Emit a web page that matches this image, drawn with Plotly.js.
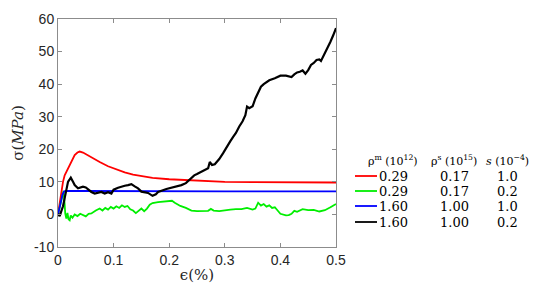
<!DOCTYPE html>
<html><head><meta charset="utf-8">
<script src="https://cdn.plot.ly/plotly-3.0.1.min.js"></script>
<style>html,body{margin:0;padding:0;background:#fff}</style>
</head><body><div id="chart" style="width:540px;height:291px"></div>
<script>
// strain (%) and stress (MPa)
const redX = [0, 0.003, 0.006, 0.009, 0.012, 0.016, 0.02, 0.025, 0.03, 0.035, 0.039, 0.045, 0.05, 0.06, 0.075, 0.09, 0.1, 0.12, 0.135, 0.15, 0.17, 0.2, 0.23, 0.26, 0.3, 0.35, 0.4, 0.45, 0.5];
const redY = [0, 3.5, 7, 10, 12, 13.5, 15, 16.8, 18.2, 19.0, 19.3, 19.0, 18.5, 17.4, 16.1, 14.8, 14.1, 12.9, 12.2, 11.7, 11.2, 10.8, 10.5, 10.2, 10.0, 9.9, 9.85, 9.8, 9.8];

const greenX = [0, 0.004, 0.008, 0.010, 0.012, 0.013, 0.015, 0.017, 0.019, 0.021, 0.023, 0.026, 0.03, 0.035, 0.04, 0.045, 0.05, 0.055, 0.06, 0.068, 0.075, 0.08, 0.085, 0.09, 0.095, 0.1, 0.105, 0.11, 0.115, 0.12, 0.125, 0.13, 0.135, 0.14, 0.145, 0.15, 0.155, 0.16, 0.165, 0.17, 0.18, 0.19, 0.2, 0.205, 0.21, 0.22, 0.23, 0.24, 0.25, 0.26, 0.27, 0.275, 0.28, 0.29, 0.3, 0.31, 0.32, 0.33, 0.34, 0.35, 0.355, 0.36, 0.365, 0.37, 0.375, 0.38, 0.385, 0.39, 0.395, 0.4, 0.41, 0.415, 0.42, 0.425, 0.43, 0.44, 0.45, 0.46, 0.47, 0.48, 0.49, 0.5];
const greenY = [0, 3, 6.4, 7.2, 3, 0.3, -1.3, 0.5, -1.5, -1.8, -0.3, -1.0, 0, -0.5, 0.2, -0.3, -0.6, 0.2, 0.3, 1.2, 1.8, 1.2, 2.0, 1.5, 2.3, 1.8, 2.5, 2.0, 2.8, 2.3, 2.6, 1.6, 1.2, 0.4, 1.0, 1.8, 1.0, 1.8, 3.0, 3.5, 3.8, 3.9, 4.0, 4.2, 3.6, 2.6, 2.0, 1.2, 1.0, 1.0, 1.1, 1.7, 1.2, 1.0, 1.3, 1.5, 1.6, 1.6, 2.0, 1.5, 1.8, 3.6, 2.7, 3.2, 2.4, 2.8, 2.0, 2.2, 1.2, 0.2, -0.3, -0.2, 0.2, 1.1, 0.8, 1.6, 1.3, 1.4, 0.9, 1.3, 2.2, 3.2];

const blueX = [0, 0.004, 0.008, 0.011, 0.015, 0.05, 0.1, 0.2, 0.3, 0.4, 0.5];
const blueY = [0, 3, 6, 7.1, 7.2, 7.2, 7.15, 7.1, 7.1, 7.1, 7.1];

const blackX = [0, 0.003, 0.006, 0.009, 0.012, 0.015, 0.018, 0.02, 0.023, 0.027, 0.03, 0.036, 0.045, 0.05, 0.055, 0.06, 0.066, 0.072, 0.078, 0.084, 0.09, 0.096, 0.1, 0.108, 0.114, 0.12, 0.126, 0.132, 0.138, 0.144, 0.15, 0.156, 0.162, 0.17, 0.176, 0.18, 0.185, 0.19, 0.195, 0.2, 0.207, 0.215, 0.222, 0.23, 0.236, 0.24, 0.245, 0.25, 0.255, 0.26, 0.265, 0.27, 0.273, 0.277, 0.282, 0.29, 0.297, 0.303, 0.31, 0.315, 0.32, 0.326, 0.332, 0.337, 0.34, 0.344, 0.35, 0.355, 0.36, 0.365, 0.37, 0.38, 0.39, 0.4, 0.41, 0.42, 0.425, 0.43, 0.435, 0.44, 0.445, 0.45, 0.455, 0.46, 0.465, 0.47, 0.473, 0.477, 0.485, 0.49, 0.495, 0.5];
const blackY = [0.2, -0.5, 1.0, 2.5, 5, 7.6, 10.0, 10.5, 11.3, 10.0, 9.0, 8.0, 8.5, 8.3, 7.5, 6.9, 6.4, 6.6, 6.9, 6.4, 6.8, 6.4, 7.6, 8.2, 8.6, 8.8, 9.0, 9.3, 8.6, 8.0, 7.0, 6.7, 6.6, 5.7, 6.2, 6.9, 7.3, 7.5, 7.8, 8.0, 8.3, 8.8, 9.0, 9.6, 10.5, 11.3, 12.0, 12.4, 12.8, 13.2, 13.6, 14.2, 16.1, 15.2, 15.4, 17.0, 18.8, 20.7, 22.5, 23.8, 25.0, 27.0, 28.6, 30.5, 33.1, 32.6, 33.2, 35.6, 37.5, 39.2, 40.0, 41.2, 41.8, 42.6, 42.6, 42.2, 43.0, 43.6, 43.8, 44.2, 43.2, 44.3, 45.9, 46.5, 47.4, 47.6, 47.1, 48.4, 51.0, 53.0, 55.0, 57.2];

const xTicks = [0, 0.1, 0.2, 0.3, 0.4, 0.5];
const yTicks = [-10, 0, 10, 20, 30, 40, 50, 60];

const legendHeaders = ['ρ<sup>m</sup> (10<sup>12</sup>)', 'ρ<sup>s</sup> (10<sup>15</sup>)', '<i>s</i> (10<sup>−4</sup>)'];
const colRhoM = ['0.29', '0.29', '1.60', '1.60'];
const colRhoS = ['0.17', '0.17', '1.00', '1.00'];
const colS = ['1.0', '0.2', '1.0', '0.2'];
const seriesColors = ['#ff0000', '#00ee00', '#0000ff', '#000000'];

const traces = [
  {x: redX, y: redY, color: seriesColors[0], w: 1.8},
  {x: greenX, y: greenY, color: seriesColors[1], w: 1.8},
  {x: blueX, y: blueY, color: seriesColors[2], w: 1.8},
  {x: blackX, y: blackY, color: seriesColors[3], w: 2.2}
].map(t => ({x: t.x, y: t.y, type: 'scatter', mode: 'lines', line: {color: t.color, width: t.w}, showlegend: false, hoverinfo: 'skip'}));

// legend table geometry (pixels) -> paper coords
const L = 58, R = 204, W = 540 - L - R, T = 19, B = 44, H = 291 - T - B;
const px = v => (v - L) / W;
const py = v => 1 - (v - T) / H;
const serif = 'DejaVu Serif';
const sans = 'Liberation Sans';
const colCenters = [393, 454, 507];
const headerY = 160;
const rowYs = [176, 191, 206, 222];

const annotations = [];
legendHeaders.forEach((h, i) => annotations.push({xref: 'paper', yref: 'paper', x: px(colCenters[i]), y: py(headerY), text: h, showarrow: false, xanchor: 'center', yanchor: 'middle', font: {family: serif, size: 11, color: '#000'}}));
[colRhoM, colRhoS, colS].forEach((col, i) => col.forEach((v, r) => annotations.push({xref: 'paper', yref: 'paper', x: px(colCenters[i]), y: py(rowYs[r]), text: v, showarrow: false, xanchor: 'center', yanchor: 'middle', font: {family: serif, size: 13, color: '#000'}})));
const shapes = seriesColors.map((c, r) => ({type: 'line', xref: 'paper', yref: 'paper', x0: px(355), x1: px(377), y0: py(rowYs[r]), y1: py(rowYs[r]), line: {color: c, width: 1.8}}));

const axisCommon = {showgrid: false, zeroline: false, showline: true, mirror: 'ticks', linecolor: '#8c8c8c', linewidth: 1, ticks: 'inside', ticklen: 4, tickcolor: '#8c8c8c', tickfont: {family: sans, size: 14, color: '#262626'}};

const layout = {
  width: 540, height: 291,
  margin: {l: L, r: R, t: T, b: B},
  paper_bgcolor: '#fff', plot_bgcolor: '#fff',
  xaxis: Object.assign({}, axisCommon, {range: [0, 0.5], tickvals: xTicks, ticktext: xTicks.map(String), title: {text: 'ϵ(%)', font: {family: serif, size: 15, color: '#262626'}, standoff: 2}}),
  yaxis: Object.assign({}, axisCommon, {range: [-10, 60], tickvals: yTicks, ticktext: yTicks.map(String), title: {text: 'σ(<i>MPa</i>)', font: {family: serif, size: 15, color: '#262626'}, standoff: 6}}),
  annotations: annotations,
  shapes: shapes
};

Plotly.newPlot('chart', traces, layout, {displayModeBar: false, staticPlot: true});
</script></body></html>
